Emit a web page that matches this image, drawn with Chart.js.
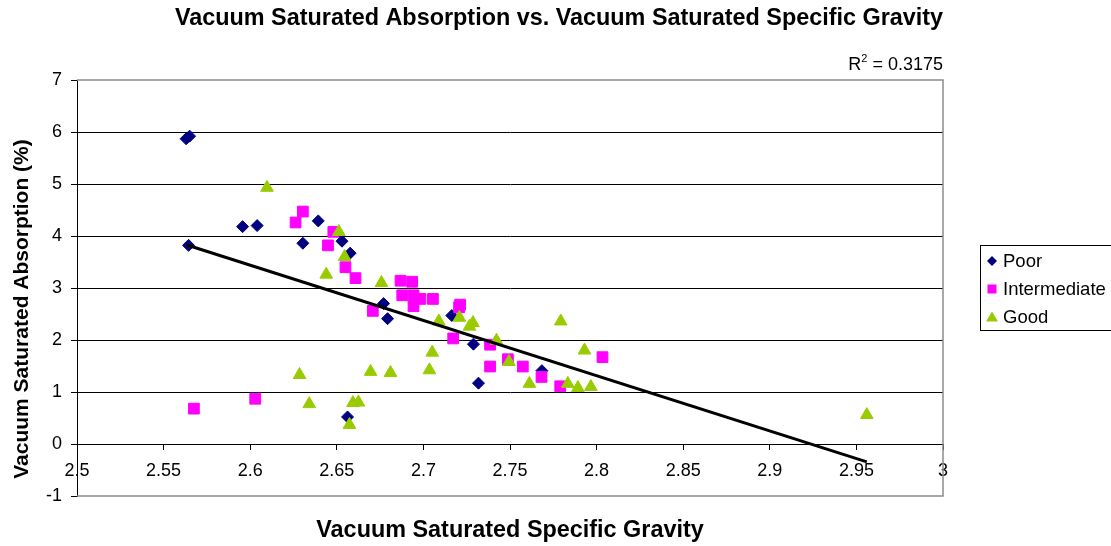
<!DOCTYPE html>
<html>
<head>
<meta charset="utf-8">
<script src="https://cdn.jsdelivr.net/npm/chart.js@4.4.1/dist/chart.umd.min.js"></script>
<style>
  html, body { margin: 0; padding: 0; background: #fff; }
  #wrap { width: 1111px; height: 546px; position: relative; }
</style>
</head>
<body>
<div id="wrap"><canvas id="chart"></canvas></div>
<script>
const FONT = 'Arial, "Liberation Sans", sans-serif';

// values
const poorX = [2.563, 2.565, 2.5644, 2.5956, 2.604, 2.6393, 2.6304, 2.653, 2.6577, 2.677, 2.6793, 2.7164, 2.7289, 2.7318, 2.7684, 2.6562];
const poorY = [5.87, 5.92, 3.82, 4.18, 4.20, 4.29, 3.86, 3.90, 3.67, 2.70, 2.41, 2.47, 1.92, 1.17, 1.41, 0.52];

const interX = [2.6304, 2.6262, 2.648, 2.6449, 2.655, 2.6608, 2.6868, 2.6935, 2.6878, 2.6943, 2.6983, 2.7055, 2.6943, 2.6708, 2.7212, 2.7206, 2.7172, 2.7385, 2.7488, 2.7574, 2.7385, 2.8034, 2.7682, 2.779, 2.5675, 2.6029];
const interY = [4.47, 4.26, 4.08, 3.82, 3.40, 3.19, 3.14, 3.12, 2.86, 2.86, 2.79, 2.79, 2.65, 2.56, 2.68, 2.63, 2.03, 1.91, 1.63, 1.49, 1.49, 1.67, 1.29, 1.11, 0.68, 0.87];

const goodX = [2.6097, 2.6512, 2.6545, 2.6439, 2.6758, 2.7208, 2.7286, 2.7266, 2.7089, 2.7422, 2.7494, 2.7051, 2.7035, 2.6695, 2.681, 2.6285, 2.7793, 2.793, 2.7612, 2.7834, 2.7892, 2.7967, 2.956, 2.6341, 2.6593, 2.6625, 2.6573];
const goodY = [4.93, 4.08, 3.60, 3.26, 3.10, 2.43, 2.33, 2.26, 2.36, 1.99, 1.58, 1.76, 1.42, 1.39, 1.37, 1.33, 2.36, 1.80, 1.16, 1.16, 1.08, 1.10, 0.56, 0.77, 0.79, 0.80, 0.37];

// linear trend line as shown in the picture
const trendSlope = -10.62;
const trendIntercept = 31.05;
const rSquaredText = '0.3175';

const xTickValues = [2.5, 2.55, 2.6, 2.65, 2.7, 2.75, 2.8, 2.85, 2.9, 2.95, 3];
const xTickLabels = ['2.5', '2.55', '2.6', '2.65', '2.7', '2.75', '2.8', '2.85', '2.9', '2.95', '3'];
const yTickValues = [-1, 0, 1, 2, 3, 4, 5, 6, 7];
const yTickLabels = ['-1', '0', '1', '2', '3', '4', '5', '6', '7'];

const chartTitle = 'Vacuum Saturated Absorption vs. Vacuum Saturated Specific Gravity';
const xTitle = 'Vacuum Saturated Specific Gravity';
const yTitle = 'Vacuum Saturated Absorption (%)';

const seriesNames = ['Poor', 'Intermediate', 'Good'];
const seriesColors = ['#000080', '#FF00FF', '#99CC00'];

function toPoints(xs, ys) {
    return xs.map((x, i) => ({ x: x, y: ys[i] }));
}

const allX = poorX.concat(interX, goodX);
const trendStart = Math.min(...allX);
const trendEnd = Math.max(...allX);
const trendPoints = [trendStart, trendEnd].map(x => ({ x: x, y: trendSlope * x + trendIntercept }));

// Extra drawing: plot border, titles, R² label and the boxed legend
const extras = {
    id: 'extras',
    beforeDatasetsDraw(chart) {
        const { ctx, chartArea: a } = chart;
        ctx.save();
        ctx.strokeStyle = '#8c8c8c';
        ctx.lineWidth = 1.5;
        ctx.beginPath();
        ctx.moveTo(a.left, a.top);
        ctx.lineTo(a.right, a.top);
        ctx.lineTo(a.right, a.bottom);
        ctx.lineTo(a.left, a.bottom);
        ctx.stroke();
        ctx.restore();
    },
    afterDraw(chart) {
        const { ctx, chartArea: a } = chart;
        ctx.save();
        ctx.fillStyle = '#000';
        ctx.textAlign = 'center';
        ctx.textBaseline = 'middle';

        // chart title
        ctx.font = 'bold 23.4px ' + FONT;
        ctx.fillText(chartTitle, 559, 19);

        // x axis title
        ctx.font = 'bold 23.4px ' + FONT;
        ctx.fillText(xTitle, (a.left + a.right) / 2, 531);

        // y axis title
        ctx.save();
        ctx.font = 'bold 21px ' + FONT;
        ctx.translate(22, 309);
        ctx.rotate(-Math.PI / 2);
        ctx.fillText(yTitle, 0, 0);
        ctx.restore();

        // R² label
        ctx.textAlign = 'left';
        ctx.textBaseline = 'alphabetic';
        ctx.font = '18px ' + FONT;
        const wR = ctx.measureText('R').width;
        const rest = ' = ' + rSquaredText;
        const wRest = ctx.measureText(rest).width;
        ctx.font = '11px ' + FONT;
        const w2 = ctx.measureText('2').width;
        let x0 = a.right - (wR + w2 + wRest);
        ctx.font = '18px ' + FONT;
        ctx.fillText('R', x0, 70);
        ctx.font = '11px ' + FONT;
        ctx.fillText('2', x0 + wR, 62);
        ctx.font = '18px ' + FONT;
        ctx.fillText(rest, x0 + wR + w2, 70);

        // legend
        ctx.strokeStyle = '#000';
        ctx.lineWidth = 1;
        ctx.strokeRect(980.5, 245.5, 140, 85);
        const rows = [261, 289, 317];
        ctx.textBaseline = 'middle';
        rows.forEach((y, i) => {
            const mx = 992;
            ctx.fillStyle = seriesColors[i];
            ctx.beginPath();
            if (i === 0) {
                ctx.moveTo(mx, y - 5); ctx.lineTo(mx + 5, y); ctx.lineTo(mx, y + 5); ctx.lineTo(mx - 5, y);
            } else if (i === 1) {
                ctx.rect(mx - 4.5, y - 4.5, 9, 9);
            } else {
                ctx.moveTo(mx, y - 5.5); ctx.lineTo(mx + 6, y + 4.5); ctx.lineTo(mx - 6, y + 4.5);
            }
            ctx.closePath();
            ctx.fill();
            ctx.fillStyle = '#000';
            ctx.font = '18.5px ' + FONT;
            ctx.fillText(seriesNames[i], 1003, y + 1);
        });
        ctx.restore();
    }
};

new Chart(document.getElementById('chart'), {
    type: 'scatter',
    data: {
        datasets: [
            {
                type: 'line',
                label: 'Trend',
                data: trendPoints,
                borderColor: '#000',
                borderWidth: 3,
                pointRadius: 0,
                fill: false,
                order: 0
            },
            {
                label: seriesNames[2],
                data: toPoints(goodX, goodY),
                pointStyle: 'triangle',
                pointRadius: 7.3,
                backgroundColor: seriesColors[2],
                borderColor: seriesColors[2],
                borderWidth: 1,
                order: 1
            },
            {
                label: seriesNames[1],
                data: toPoints(interX, interY),
                pointStyle: 'rect',
                pointRadius: 7.6,
                backgroundColor: seriesColors[1],
                borderColor: seriesColors[1],
                borderWidth: 1,
                order: 2
            },
            {
                label: seriesNames[0],
                data: toPoints(poorX, poorY),
                pointStyle: 'rectRot',
                pointRadius: 6,
                backgroundColor: seriesColors[0],
                borderColor: seriesColors[0],
                borderWidth: 1,
                order: 3
            }
        ]
    },
    options: {
        responsive: true,
        maintainAspectRatio: false,
        animation: false,
        layout: { padding: { left: 0, right: 168, top: 80, bottom: 50 } },
        plugins: {
            legend: { display: false },
            tooltip: { enabled: false },
            title: { display: false }
        },
        scales: {
            x: {
                type: 'linear',
                position: { y: 0 },
                min: 2.5,
                max: 3,
                afterBuildTicks: (scale) => { scale.ticks = xTickValues.map(v => ({ value: v })); },
                ticks: {
                    color: '#000',
                    font: { family: FONT, size: 18 },
                    padding: 11,
                    maxRotation: 0,
                    autoSkip: false,
                    callback: (v, i) => xTickLabels[i]
                },
                grid: { display: true, drawOnChartArea: false, drawTicks: true, tickLength: 5, tickColor: '#000', color: '#000' },
                border: { display: true, color: '#000', width: 1 }
            },
            y: {
                type: 'linear',
                min: -1,
                max: 7,
                afterBuildTicks: (scale) => { scale.ticks = yTickValues.map(v => ({ value: v })); },
                afterFit: (scale) => { scale.width = 77; },
                ticks: {
                    color: '#000',
                    font: { family: FONT, size: 18 },
                    padding: 9,
                    autoSkip: false,
                    callback: (v, i) => yTickLabels[i]
                },
                grid: {
                    color: (c) => (c.tick && (c.tick.value === 7 || c.tick.value === -1)) ? 'rgba(0,0,0,0)' : '#000',
                    tickColor: '#000',
                    tickLength: 6,
                    lineWidth: 1
                },
                border: { display: true, color: '#000', width: 1 }
            }
        }
    },
    plugins: [extras]
});
</script>
</body>
</html>
